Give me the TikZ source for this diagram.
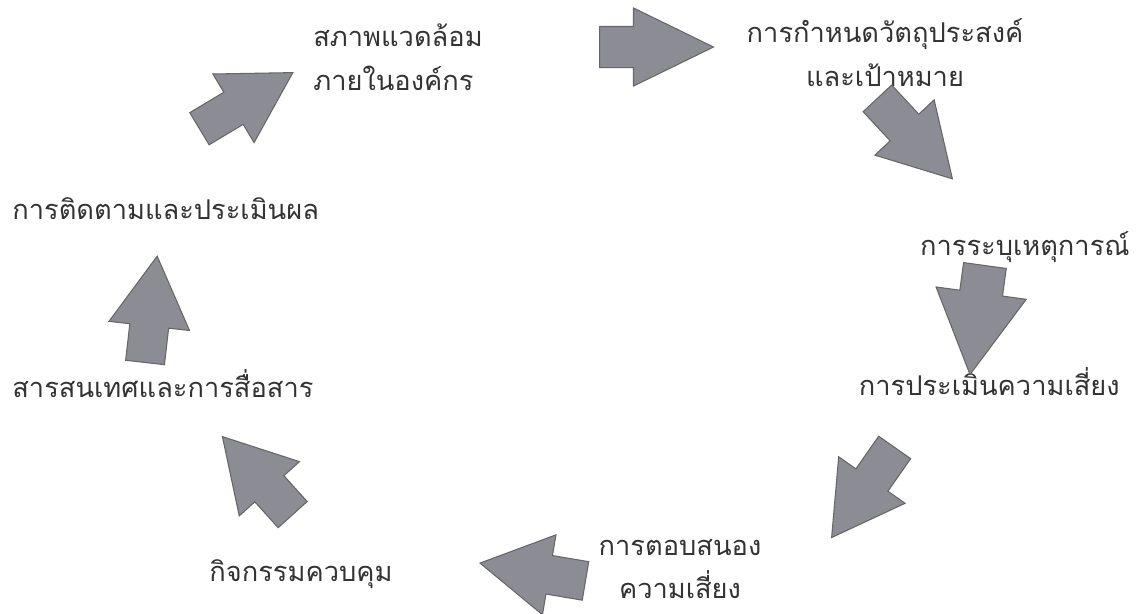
\documentclass[tikz,border=0pt]{standalone}
\usepackage{fontspec}
\newfontfamily\thaifont[Script=Thai]{Loma}
\usetikzlibrary{shapes.arrows}
\definecolor{arrowgray}{RGB}{140,140,148}

\begin{document}
\begin{tikzpicture}[x=0.02cm, y=-0.02cm,
    lbl/.style={font=\thaifont\fontsize{15.5}{25}\selectfont, text=black!80, inner sep=0pt, align=center},
    barr/.style={single arrow, draw=black!60, fill=arrowgray, line width=0.6pt,
        inner xsep=0pt, inner ysep=0.38cm,
        minimum height=2.2cm, minimum width=1.6cm, single arrow head extend=0.42cm,
        single arrow tip angle=60, anchor=tail},
]
\useasboundingbox (0,0) rectangle (1141,613);

% labels round the cycle
\node[lbl, align=left, anchor=west] (env) at (313,57) {สภาพแวดล้อม\\ภายในองค์กร};
\node[lbl] (obj) at (885,53) {การกำหนดวัตถุประสงค์\\และเป้าหมาย};
\node[lbl, anchor=east] (ident) at (1130,247) {การระบุเหตุการณ์};
\node[lbl, anchor=east] (assess) at (1120,382) {การประเมินความเสี่ยง};
\node[lbl] (resp) at (680,569) {การตอบสนอง\\ความเสี่ยง};
\node[lbl] (ctrl) at (301,574) {กิจกรรมควบคุม};
\node[lbl, anchor=west] (info) at (12,384) {สารสนเทศและการสื่อสาร};
\node[lbl, anchor=west] (mon) at (12,209) {การติดตามและประเมินผล};

% block arrows
\node[barr, minimum height=2.28cm, minimum width=1.54cm, inner ysep=0.4cm, single arrow head extend=0.37cm, single arrow tip angle=52] (a1) at (599,47) {};
\node[barr, rotate=-47] (a2) at (877,98) {};
\node[barr, rotate=-97.8, minimum width=1.8cm, inner ysep=0.42cm, single arrow head extend=0.48cm, single arrow tip angle=58] (a3) at (985,265) {};
\node[barr, rotate=-125] (a4) at (895,447) {};
\node[barr, rotate=170.4, minimum height=2.14cm] (a5) at (586,581) {};
\node[barr, rotate=132, minimum height=2.1cm] (a6) at (293,515) {};
\node[barr, rotate=83.5, minimum height=2.14cm] (a7) at (145,363) {};
\node[barr, rotate=31, minimum height=2.18cm, inner ysep=0.36cm] (a8) at (199,129) {};
\end{tikzpicture}
\end{document}
